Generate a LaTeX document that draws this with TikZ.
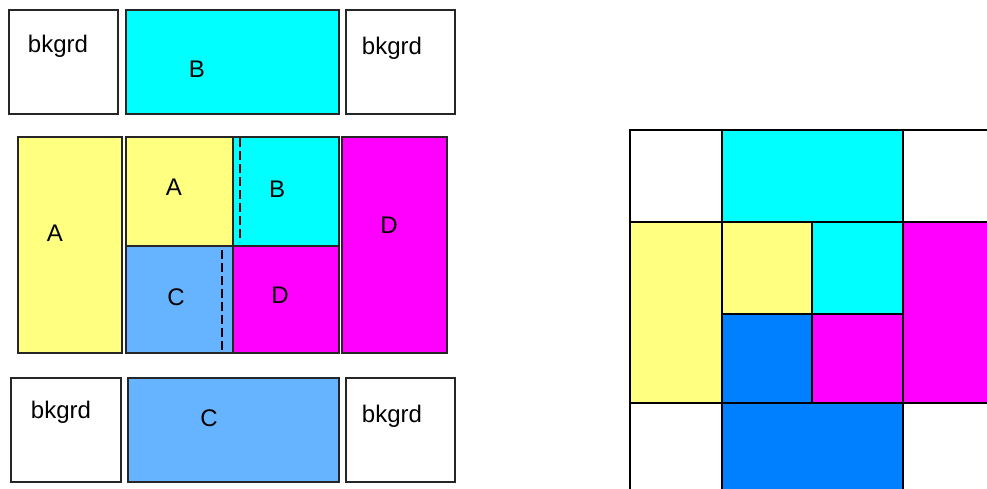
\documentclass[tikz,border=0pt]{standalone}
\usepackage{fontspec}
\setmainfont{Liberation Sans}
\usepackage{xcolor}
\usepackage{tikz}

\definecolor{tileA}{RGB}{255,255,128}
\definecolor{tileB}{RGB}{0,255,255}
\definecolor{tileC}{RGB}{102,179,255}
\definecolor{tileD}{RGB}{255,0,255}
\definecolor{tileCdark}{RGB}{0,128,255}

\begin{document}
\begin{tikzpicture}[
    x=1pt, y=-1pt,
    every node/.style={font=\fontsize{24}{28}\selectfont, anchor=base, inner sep=0pt},
    tile/.style={draw=black!85, line width=1.3pt},
    cell/.style={draw=black, line width=1.2pt},
    cut/.style={draw=black, line width=1.2pt, dash pattern=on 9pt off 4pt}
]
\clip (0,0) rectangle (987,488);
\fill[white] (0,0) rectangle (987,488);

% left: top row
\draw[tile] (9,10) rectangle (118,114);
\draw[tile, fill=tileB] (126,10) rectangle (339,114);
\draw[tile] (346,10) rectangle (455,114);
\node (bkgrdTL) at (58,52) {bkgrd};
\node (topB) at (197,77) {B};
\node (bkgrdTR) at (392,54) {bkgrd};

% left: middle row
\draw[tile, fill=tileA] (18,137) rectangle (122,353);
\draw[tile, fill=tileA] (126,137) rectangle (233,246);
\draw[tile, fill=tileB] (233,137) rectangle (339,246);
\draw[tile, fill=tileC] (126,246) rectangle (233,353);
\draw[tile, fill=tileD] (233,246) rectangle (339,353);
\draw[tile, fill=tileD] (342,137) rectangle (447,353);
\draw[cut] (240,138) -- (240,242);
\draw[cut] (222,250) -- (222,352);
\node (midA) at (55,241) {A};
\node (innerA) at (174,195) {A};
\node (innerB) at (277,197) {B};
\node (innerC) at (176,305) {C};
\node (innerD) at (280,303) {D};
\node (midD) at (389,233) {D};

% left: bottom row
\draw[tile] (11,378) rectangle (121,482);
\draw[tile, fill=tileC] (128,378) rectangle (339,482);
\draw[tile] (346,378) rectangle (455,482);
\node (bkgrdBL) at (61,418) {bkgrd};
\node (botC) at (209,426) {C};
\node (bkgrdBR) at (392,422) {bkgrd};

% right: assembled grid
\draw[cell] (630,130) rectangle (722,222);
\draw[cell, fill=tileB] (722,130) rectangle (903,222);
\draw[cell] (903,130) rectangle (1000,222);
\draw[cell, fill=tileA] (630,222) rectangle (722,403);
\draw[cell, fill=tileA] (722,222) rectangle (812,314);
\draw[cell, fill=tileB] (812,222) rectangle (903,314);
\draw[cell, fill=tileCdark] (722,314) rectangle (812,403);
\draw[cell, fill=tileD] (812,314) rectangle (903,403);
\draw[cell, fill=tileD] (903,222) rectangle (1000,403);
\draw[cell] (630,403) rectangle (722,500);
\draw[cell, fill=tileCdark] (722,403) rectangle (903,500);
\end{tikzpicture}
\end{document}
